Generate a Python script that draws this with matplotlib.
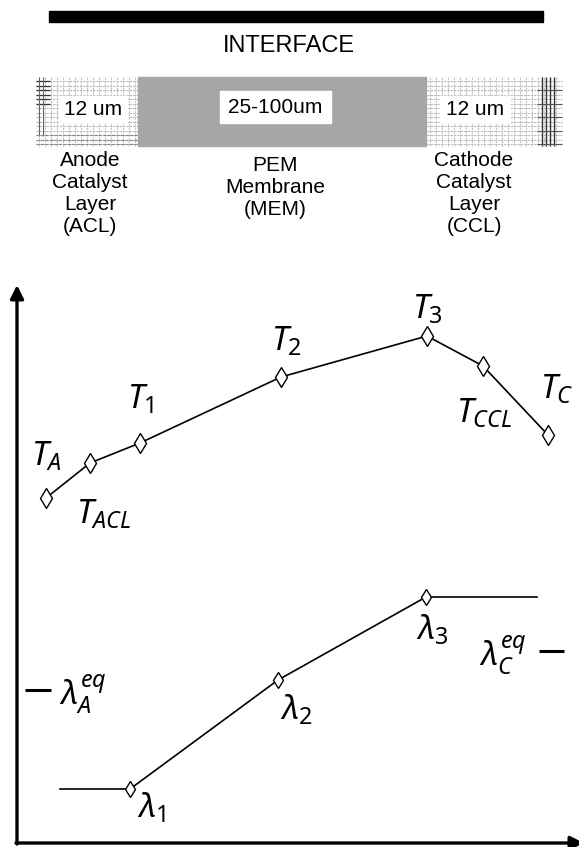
import numpy as np
import matplotlib
matplotlib.use("Agg")
import matplotlib.pyplot as plt
from matplotlib.patches import Rectangle

plt.rcParams['font.family'] = ['Liberation Sans', 'DejaVu Sans']
plt.rcParams['mathtext.fontset'] = 'custom'
plt.rcParams['mathtext.it'] = 'Noto Sans:italic'
plt.rcParams['mathtext.rm'] = 'Noto Sans'

# ----------------------------
# Data (schematic, figure units: x across the cell, y up)
# ----------------------------
T_names = ["A", "ACL", "1", "2", "3", "CCL", "C"]
T_x = [46, 90, 140, 281, 427, 483, 548]
T_y = [349, 384, 404, 470, 511, 481, 412]

lam_x = [60, 130, 278, 426, 537]
lam_y = [58, 58, 167, 250, 250]
lam_marked = [1, 2, 3]          # indices of points with markers
lam_names = ["1", "2", "3"]

lam_eq_A = 157
lam_eq_C = 196

layers = ["ACL", "MEM", "CCL"]
layer_edges = [36, 138, 427, 562]
layer_sizes = ["12 um", "25-100um", "12 um"]
layer_labels = ["Anode\nCatalyst\nLayer\n(ACL)", "PEM\nMembrane\n(MEM)",
                "Cathode\nCatalyst\nLayer\n(CCL)"]

W, H = 579, 847
fig = plt.figure(figsize=(W / 100, H / 100), dpi=100)
ax = fig.add_axes([0, 0, 1, 1])
ax.set_xlim(0, W)
ax.set_ylim(0, H)
ax.axis("off")

# ----------------------------
# Header: interface bar + layers
# ----------------------------
ax.add_patch(Rectangle((49, 825), 494, 11, color="black"))
ax.text(289, 801, "INTERFACE", ha="center", va="center", fontsize=17)

y0, y1 = 701, 770


def hatch(xa, xb, dark_side):
    ys = np.arange(y0 + 2, y1, 4.5)
    xs = np.arange(xa + 3, xb, 6.0)
    ax.hlines(ys, xa, xb, colors="#b8b8b8", lw=0.8, linestyles=(0, (2, 1)))
    ax.vlines(xs, y0, y1, colors="#c0c0c0", lw=0.8, linestyles=(0, (2, 1)))
    if dark_side == "left":
        ax.hlines(ys[-6:], xa, xa + 14, colors="#333333", lw=0.9)
        ax.vlines([xa + 3, xa + 7], y0 + 10, y1, colors="#666666", lw=0.8)
        ax.hlines(ys[:3], xa, xb, colors="#888888", lw=0.8, linestyles=(0, (3, 1)))
    else:
        ax.vlines([xb - 20, xb - 16, xb - 12, xb - 8], y0, y1, colors="#333333", lw=1.0)
        ax.hlines(ys[::3], xb - 25, xb, colors="#555555", lw=0.8)


hatch(layer_edges[0], layer_edges[1], "left")
ax.add_patch(Rectangle((layer_edges[1], y0), layer_edges[2] - 1 - layer_edges[1], y1 - y0,
                       color="#a6a6a6", zorder=2))
hatch(layer_edges[2], layer_edges[3], "right")

box_x = [(59, 127), (220, 331), (440, 510)]
box_y = [(725, 751), (724, 756), (725, 751)]
label_x = [90, 275, 474]
for i in range(3):
    (bx0, bx1), (by0, by1) = box_x[i], box_y[i]
    ax.add_patch(Rectangle((bx0, by0), bx1 - bx0, by1 - by0, color="white", zorder=3))
    ax.text((bx0 + bx1) / 2, (by0 + by1) / 2, layer_sizes[i], ha="center", va="center",
            fontsize=15, zorder=4)
    top = 696 if i != 1 else 691
    ax.text(label_x[i], top, layer_labels[i], ha="center", va="top", ma="center",
            fontsize=15, linespacing=1.2)

# ----------------------------
# Axes arrows
# ----------------------------
ax.annotate("", xy=(17, 562), xytext=(17, 3), annotation_clip=False,
            arrowprops=dict(arrowstyle="-|>", lw=2.4, color="black", mutation_scale=20,
                            shrinkA=0, shrinkB=0))
ax.annotate("", xy=(584, 4), xytext=(16, 4), annotation_clip=False,
            arrowprops=dict(arrowstyle="-|>", lw=2.4, color="black", mutation_scale=20,
                            shrinkA=0, shrinkB=0))

# ----------------------------
# Temperature profile
# ----------------------------
ax.plot(T_x, T_y, color="black", lw=1.2, marker="d", ms=10, mfc="white",
        mec="black", mew=1.0)

T_lab_pos = [(31, 407), (76, 349), (127, 464), (271, 522), (412, 554), (456, 450), (540, 474)]
for name, (lx, ly) in zip(T_names, T_lab_pos):
    ax.text(lx, ly, rf"$T_{{{name}}}$", ha="left", va="top", fontsize=24)

# ----------------------------
# Water content profile
# ----------------------------
ax.plot(lam_x, lam_y, color="black", lw=1.2)
ax.plot([lam_x[i] for i in lam_marked], [lam_y[i] for i in lam_marked], ls="none",
        marker="d", ms=8, mfc="white", mec="black", mew=1.0)

lam_lab_pos = [(137, 56), (280, 154), (416, 234)]
for name, (lx, ly) in zip(lam_names, lam_lab_pos):
    ax.text(lx, ly, rf"$\lambda_{{{name}}}$", ha="left", va="top", fontsize=24)

ax.hlines(lam_eq_A, 25, 51, color="black", lw=2.2)
ax.text(59, lam_eq_A - 4, r"$\lambda_A^{eq}$", ha="left", va="center", fontsize=24)
ax.hlines(lam_eq_C, 539, 564, color="black", lw=2.2)
ax.text(479, lam_eq_C - 4, r"$\lambda_C^{eq}$", ha="left", va="center", fontsize=24)

fig.savefig("out.png", dpi=100)
